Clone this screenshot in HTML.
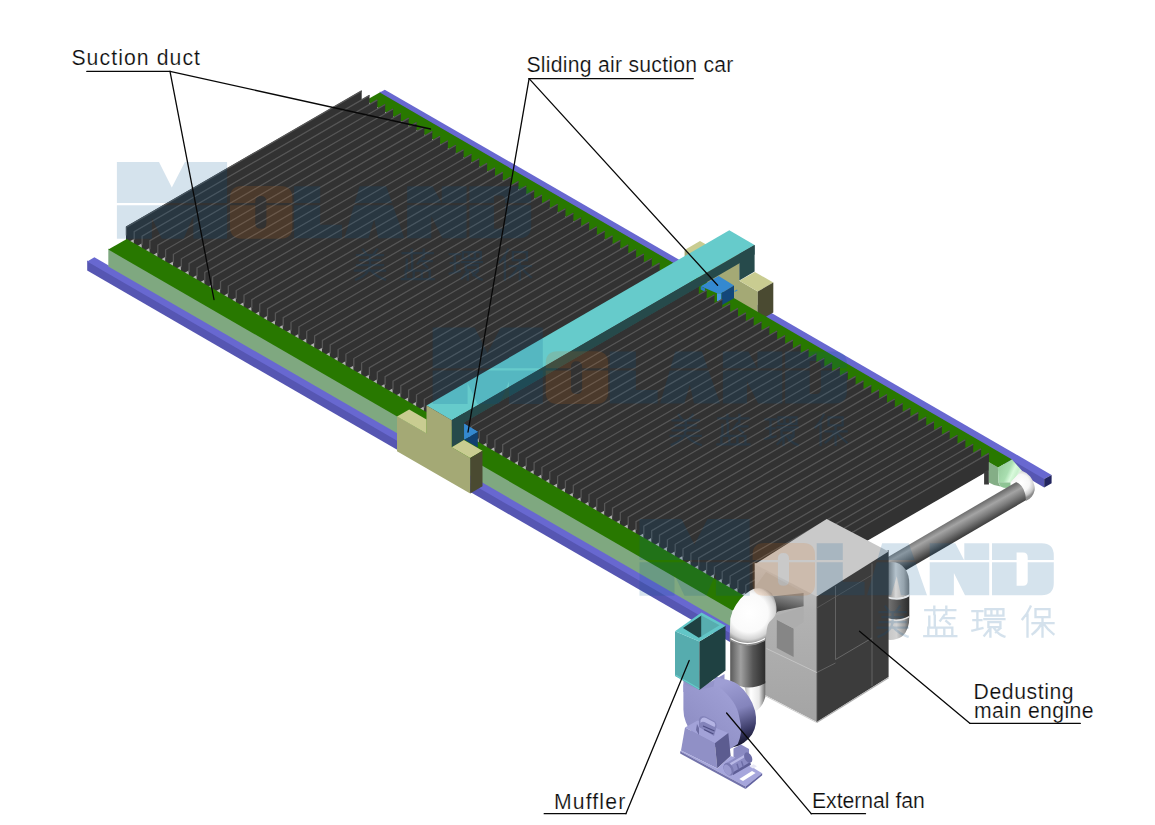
<!DOCTYPE html>
<html><head><meta charset="utf-8"><title>Dust removal system</title>
<style>
html,body{margin:0;padding:0;background:#fff;}
body{width:1155px;height:825px;overflow:hidden;font-family:"Liberation Sans",sans-serif;}
svg{display:block;}
</style></head><body>
<svg width="1155" height="825" viewBox="0 0 1155 825">

<defs>
<linearGradient id="gPipeR" gradientUnits="userSpaceOnUse" x1="956" y1="517" x2="966" y2="535">
 <stop offset="0" stop-color="#6e6e6e"/><stop offset="0.3" stop-color="#a4a4a4"/><stop offset="0.6" stop-color="#7c7c7c"/><stop offset="1" stop-color="#3c3c3c"/>
</linearGradient>
<linearGradient id="gPipeV" x1="0" y1="0" x2="1" y2="0">
 <stop offset="0" stop-color="#5a5a5a"/><stop offset="0.3" stop-color="#a0a0a0"/><stop offset="0.65" stop-color="#555"/><stop offset="1" stop-color="#2c2c2c"/>
</linearGradient>
<linearGradient id="gElbV" x1="0" y1="0" x2="1" y2="0">
 <stop offset="0" stop-color="#b8b8b8"/><stop offset="0.3" stop-color="#ffffff"/><stop offset="0.7" stop-color="#e8e8e8"/><stop offset="1" stop-color="#6a6a6a"/>
</linearGradient>
<linearGradient id="gBackElb" x1="0" y1="0" x2="1" y2="0">
 <stop offset="0" stop-color="#6a6a6a"/><stop offset="0.42" stop-color="#d8d8d8"/><stop offset="0.75" stop-color="#b4b4b4"/><stop offset="1" stop-color="#7a7a7a"/>
</linearGradient>
<linearGradient id="gBackSeg" x1="0" y1="0" x2="1" y2="0">
 <stop offset="0" stop-color="#7a7a7a"/><stop offset="0.4" stop-color="#5c5c5c"/><stop offset="1" stop-color="#2c2c2c"/>
</linearGradient>
<linearGradient id="gBackElb2" x1="0" y1="0" x2="1" y2="0">
 <stop offset="0" stop-color="#c4c4c4"/><stop offset="0.45" stop-color="#d2d2d2"/><stop offset="0.8" stop-color="#9a9a9a"/><stop offset="1" stop-color="#5a5a5a"/>
</linearGradient>
<radialGradient id="gElbL" gradientUnits="userSpaceOnUse" cx="749" cy="613" r="31">
 <stop offset="0" stop-color="#ffffff"/><stop offset="0.62" stop-color="#fafafa"/><stop offset="0.85" stop-color="#d4d4d4"/><stop offset="1" stop-color="#8a8a8a"/>
</radialGradient>
<radialGradient id="gElbR" gradientUnits="userSpaceOnUse" cx="1021" cy="483" r="15.5">
 <stop offset="0" stop-color="#ffffff"/><stop offset="0.55" stop-color="#f6f6f6"/><stop offset="0.85" stop-color="#c8c8c8"/><stop offset="1" stop-color="#8c8c8c"/>
</radialGradient>
<linearGradient id="gDuct" gradientUnits="userSpaceOnUse" x1="790" y1="596" x2="786" y2="614">
 <stop offset="0" stop-color="#8a8a8a"/><stop offset="1" stop-color="#3a3a3a"/>
</linearGradient>
<linearGradient id="gBoxL" x1="0" y1="0" x2="0" y2="1">
 <stop offset="0" stop-color="#c4c4c4"/><stop offset="0.3" stop-color="#b2b2b2"/><stop offset="1" stop-color="#a4a4a4"/>
</linearGradient>
<linearGradient id="gFanRim" gradientUnits="userSpaceOnUse" x1="728" y1="682" x2="750" y2="742">
 <stop offset="0" stop-color="#9e9ed4"/><stop offset="0.45" stop-color="#8484bc"/><stop offset="0.8" stop-color="#3a3a66"/><stop offset="1" stop-color="#15152c"/>
</linearGradient>
<linearGradient id="gFanFace" gradientUnits="userSpaceOnUse" x1="735" y1="690" x2="690" y2="740">
 <stop offset="0" stop-color="#a0a0d6"/><stop offset="1" stop-color="#8c8cc2"/>
</linearGradient>
<linearGradient id="gGreenDuct" gradientUnits="userSpaceOnUse" x1="999" y1="470" x2="1019" y2="479">
 <stop offset="0" stop-color="#9acfa0"/><stop offset="0.4" stop-color="#a9deb0"/><stop offset="0.62" stop-color="#d9fadc"/><stop offset="0.8" stop-color="#c9f0cd"/><stop offset="1" stop-color="#eefaef"/>
</linearGradient>
</defs>

<rect width="1155" height="825" fill="#ffffff"/>
<polygon points="379.8,91.4 1044.2,477.8 1044.2,487.4 379.8,101.0" fill="#5656b2"/>
<polygon points="384.8,89.7 1051.6,474.9 1044.2,479.0 379.8,92.6" fill="#6868d0"/>
<polygon points="1044.2,479.0 1051.6,474.9 1051.6,483.3 1044.2,487.4" fill="#23265f"/>
<polygon points="684.6,250.1 714.1,267.1 714.1,239.1 739.3,253.8 739.3,280.8 757.8,291.5 757.8,327.0 684.6,284.8" fill="#a4a975"/>
<polygon points="684.6,250.1 700.0,240.9 717.5,251.0 714.1,267.1" fill="#c9cc91"/>
<polygon points="739.3,280.8 754.9,272.0 773.3,282.6 757.8,291.5" fill="#c9cc91"/>
<polygon points="757.8,291.5 773.3,282.6 773.3,312.6 757.8,321.5" fill="#4a4a31"/>
<polygon points="379.7,92.4 1012.0,459.5 997.9,467.7 365.6,100.6" fill="#287800"/>
<polygon points="700.7,286.2 718.7,276.0 734.0,285.6 721.3,293.3 717.0,293.3" fill="#3489d0"/>
<polygon points="721.3,293.3 734.0,285.6 734.0,298.2 722.0,305.0" fill="#13477a"/>
<polygon points="717.0,293.3 721.3,293.3 721.3,303.0 717.0,301.0" fill="#4a9be2"/>
<polygon points="700.7,286.2 705.0,288.6 705.0,291.8 700.7,289.4" fill="#2c7cc4"/>
<line x1="734.5" y1="291.6" x2="737.3" y2="290.0" stroke="#3a8ad2" stroke-width="1.2"/>
<polygon points="130.0,231.7 757.2,594.2 757.2,607.2 130.0,244.7" fill="#b2b2b2"/>
<g fill="#323232"><polygon points="126.0,226.6 361.7,90.4 361.7,107.2 126.0,243.4"/><polygon points="133.8,231.1 369.5,94.9 369.5,111.7 133.8,247.9"/><polygon points="141.7,235.7 377.4,99.4 377.4,116.2 141.7,252.5"/><polygon points="149.5,240.2 385.2,104.0 385.2,120.8 149.5,257.0"/><polygon points="157.4,244.7 393.1,108.5 393.1,125.3 157.4,261.5"/><polygon points="165.2,249.3 400.9,113.0 400.9,129.8 165.2,266.1"/><polygon points="173.0,253.8 408.7,117.6 408.7,134.4 173.0,270.6"/><polygon points="180.9,258.3 416.6,122.1 416.6,138.9 180.9,275.1"/><polygon points="188.7,262.9 424.4,126.6 424.4,143.4 188.7,279.7"/><polygon points="196.6,267.4 432.3,131.1 432.3,147.9 196.6,284.2"/><polygon points="204.4,271.9 440.1,135.7 440.1,152.5 204.4,288.7"/><polygon points="212.2,276.4 447.9,140.2 447.9,157.0 212.2,293.2"/><polygon points="220.1,281.0 455.8,144.7 455.8,161.5 220.1,297.8"/><polygon points="227.9,285.5 463.6,149.3 463.6,166.1 227.9,302.3"/><polygon points="235.8,290.0 471.5,153.8 471.5,170.6 235.8,306.8"/><polygon points="243.6,294.6 479.3,158.3 479.3,175.1 243.6,311.4"/><polygon points="251.4,299.1 487.1,162.9 487.1,179.7 251.4,315.9"/><polygon points="259.3,303.6 495.0,167.4 495.0,184.2 259.3,320.4"/><polygon points="267.1,308.2 502.8,171.9 502.8,188.7 267.1,325.0"/><polygon points="275.0,312.7 510.7,176.5 510.7,193.3 275.0,329.5"/><polygon points="282.8,317.2 518.5,181.0 518.5,197.8 282.8,334.0"/><polygon points="290.6,321.8 526.3,185.5 526.3,202.3 290.6,338.6"/><polygon points="298.5,326.3 534.2,190.1 534.2,206.9 298.5,343.1"/><polygon points="306.3,330.8 542.0,194.6 542.0,211.4 306.3,347.6"/><polygon points="314.2,335.4 549.9,199.1 549.9,215.9 314.2,352.2"/><polygon points="322.0,339.9 557.7,203.7 557.7,220.5 322.0,356.7"/><polygon points="329.8,344.4 565.5,208.2 565.5,225.0 329.8,361.2"/><polygon points="337.7,349.0 573.4,212.7 573.4,229.5 337.7,365.8"/><polygon points="345.5,353.5 581.2,217.2 581.2,234.0 345.5,370.3"/><polygon points="353.4,358.0 589.1,221.8 589.1,238.6 353.4,374.8"/><polygon points="361.2,362.5 596.9,226.3 596.9,243.1 361.2,379.3"/><polygon points="369.0,367.1 604.7,230.8 604.7,247.6 369.0,383.9"/><polygon points="376.9,371.6 612.6,235.4 612.6,252.2 376.9,388.4"/><polygon points="384.7,376.1 620.4,239.9 620.4,256.7 384.7,392.9"/><polygon points="392.6,380.7 628.3,244.4 628.3,261.2 392.6,397.5"/><polygon points="400.4,385.2 636.1,249.0 636.1,265.8 400.4,402.0"/><polygon points="408.2,389.7 643.9,253.5 643.9,270.3 408.2,406.5"/><polygon points="416.1,394.3 651.8,258.0 651.8,274.8 416.1,411.1"/><polygon points="423.9,398.8 659.6,262.6 659.6,279.4 423.9,415.6"/><polygon points="431.8,403.3 667.5,267.1 667.5,283.9 431.8,420.1"/><polygon points="439.6,407.9 675.3,271.6 675.3,288.4 439.6,424.7"/><polygon points="447.4,412.4 683.1,276.2 683.1,293.0 447.4,429.2"/><polygon points="455.3,416.9 691.0,280.7 691.0,297.5 455.3,433.7"/><polygon points="463.1,421.5 698.8,285.2 698.8,302.0 463.1,438.3"/><polygon points="471.0,426.0 706.7,289.8 706.7,306.6 471.0,442.8"/><polygon points="478.8,430.5 714.5,294.3 714.5,311.1 478.8,447.3"/><polygon points="486.6,435.0 722.3,298.8 722.3,315.6 486.6,451.8"/><polygon points="494.5,439.6 730.2,303.3 730.2,320.1 494.5,456.4"/><polygon points="502.3,444.1 738.0,307.9 738.0,324.7 502.3,460.9"/><polygon points="510.2,448.6 745.9,312.4 745.9,329.2 510.2,465.4"/><polygon points="518.0,453.2 753.7,316.9 753.7,333.7 518.0,470.0"/><polygon points="525.8,457.7 761.5,321.5 761.5,338.3 525.8,474.5"/><polygon points="533.7,462.2 769.4,326.0 769.4,342.8 533.7,479.0"/><polygon points="541.5,466.8 777.2,330.5 777.2,347.3 541.5,483.6"/><polygon points="549.4,471.3 785.1,335.1 785.1,351.9 549.4,488.1"/><polygon points="557.2,475.8 792.9,339.6 792.9,356.4 557.2,492.6"/><polygon points="565.0,480.4 800.7,344.1 800.7,360.9 565.0,497.2"/><polygon points="572.9,484.9 808.6,348.7 808.6,365.5 572.9,501.7"/><polygon points="580.7,489.4 816.4,353.2 816.4,370.0 580.7,506.2"/><polygon points="588.6,494.0 824.3,357.7 824.3,374.5 588.6,510.8"/><polygon points="596.4,498.5 832.1,362.3 832.1,379.1 596.4,515.3"/><polygon points="604.2,503.0 839.9,366.8 839.9,383.6 604.2,519.8"/><polygon points="612.1,507.6 847.8,371.3 847.8,388.1 612.1,524.4"/><polygon points="619.9,512.1 855.6,375.9 855.6,392.7 619.9,528.9"/><polygon points="627.8,516.6 863.5,380.4 863.5,397.2 627.8,533.4"/><polygon points="635.6,521.1 871.3,384.9 871.3,401.7 635.6,537.9"/><polygon points="643.4,525.7 879.1,389.4 879.1,406.2 643.4,542.5"/><polygon points="651.3,530.2 887.0,394.0 887.0,410.8 651.3,547.0"/><polygon points="659.1,534.7 894.8,398.5 894.8,415.3 659.1,551.5"/><polygon points="667.0,539.3 902.7,403.0 902.7,419.8 667.0,556.1"/><polygon points="674.8,543.8 910.5,407.6 910.5,424.4 674.8,560.6"/><polygon points="682.6,548.3 918.3,412.1 918.3,428.9 682.6,565.1"/><polygon points="690.5,552.9 926.2,416.6 926.2,433.4 690.5,569.7"/><polygon points="698.3,557.4 934.0,421.2 934.0,438.0 698.3,574.2"/><polygon points="706.2,561.9 941.9,425.7 941.9,442.5 706.2,578.7"/><polygon points="714.0,566.5 949.7,430.2 949.7,447.0 714.0,583.3"/><polygon points="721.8,571.0 957.5,434.8 957.5,451.6 721.8,587.8"/><polygon points="729.7,575.5 965.4,439.3 965.4,456.1 729.7,592.3"/><polygon points="737.5,580.1 973.2,443.8 973.2,460.6 737.5,596.9"/><polygon points="745.4,584.6 981.1,448.4 981.1,465.2 745.4,601.4"/><polygon points="753.2,589.1 988.9,452.9 988.9,469.7 753.2,605.9"/></g>
<g fill="none" stroke="#565656" stroke-width="1.3"><path d="M126.4,235.6 L126.4,227.1 L361.7,90.9"/><path d="M134.2,240.1 L134.2,231.6 L369.5,95.4"/><path d="M142.1,244.7 L142.1,236.2 L377.4,99.9"/><path d="M149.9,249.2 L149.9,240.7 L385.2,104.5"/><path d="M157.8,253.7 L157.8,245.2 L393.1,109.0"/><path d="M165.6,258.3 L165.6,249.8 L400.9,113.5"/><path d="M173.4,262.8 L173.4,254.3 L408.7,118.1"/><path d="M181.3,267.3 L181.3,258.8 L416.6,122.6"/><path d="M189.1,271.9 L189.1,263.4 L424.4,127.1"/><path d="M197.0,276.4 L197.0,267.9 L432.3,131.6"/><path d="M204.8,280.9 L204.8,272.4 L440.1,136.2"/><path d="M212.6,285.4 L212.6,276.9 L447.9,140.7"/><path d="M220.5,290.0 L220.5,281.5 L455.8,145.2"/><path d="M228.3,294.5 L228.3,286.0 L463.6,149.8"/><path d="M236.2,299.0 L236.2,290.5 L471.5,154.3"/><path d="M244.0,303.6 L244.0,295.1 L479.3,158.8"/><path d="M251.8,308.1 L251.8,299.6 L487.1,163.4"/><path d="M259.7,312.6 L259.7,304.1 L495.0,167.9"/><path d="M267.5,317.2 L267.5,308.7 L502.8,172.4"/><path d="M275.4,321.7 L275.4,313.2 L510.7,177.0"/><path d="M283.2,326.2 L283.2,317.7 L518.5,181.5"/><path d="M291.0,330.8 L291.0,322.3 L526.3,186.0"/><path d="M298.9,335.3 L298.9,326.8 L534.2,190.6"/><path d="M306.7,339.8 L306.7,331.3 L542.0,195.1"/><path d="M314.6,344.4 L314.6,335.9 L549.9,199.6"/><path d="M322.4,348.9 L322.4,340.4 L557.7,204.2"/><path d="M330.2,353.4 L330.2,344.9 L565.5,208.7"/><path d="M338.1,358.0 L338.1,349.5 L573.4,213.2"/><path d="M345.9,362.5 L345.9,354.0 L581.2,217.7"/><path d="M353.8,367.0 L353.8,358.5 L589.1,222.3"/><path d="M361.6,371.5 L361.6,363.0 L596.9,226.8"/><path d="M369.4,376.1 L369.4,367.6 L604.7,231.3"/><path d="M377.3,380.6 L377.3,372.1 L612.6,235.9"/><path d="M385.1,385.1 L385.1,376.6 L620.4,240.4"/><path d="M393.0,389.7 L393.0,381.2 L628.3,244.9"/><path d="M400.8,394.2 L400.8,385.7 L636.1,249.5"/><path d="M408.6,398.7 L408.6,390.2 L643.9,254.0"/><path d="M416.5,403.3 L416.5,394.8 L651.8,258.5"/><path d="M424.3,407.8 L424.3,399.3 L659.6,263.1"/><path d="M432.2,412.3 L432.2,403.8 L667.5,267.6"/><path d="M440.0,416.9 L440.0,408.4 L675.3,272.1"/><path d="M447.8,421.4 L447.8,412.9 L683.1,276.7"/><path d="M455.7,425.9 L455.7,417.4 L691.0,281.2"/><path d="M463.5,430.5 L463.5,422.0 L698.8,285.7"/><path d="M471.4,435.0 L471.4,426.5 L706.7,290.3"/><path d="M479.2,439.5 L479.2,431.0 L714.5,294.8"/><path d="M487.0,444.0 L487.0,435.5 L722.3,299.3"/><path d="M494.9,448.6 L494.9,440.1 L730.2,303.8"/><path d="M502.7,453.1 L502.7,444.6 L738.0,308.4"/><path d="M510.6,457.6 L510.6,449.1 L745.9,312.9"/><path d="M518.4,462.2 L518.4,453.7 L753.7,317.4"/><path d="M526.2,466.7 L526.2,458.2 L761.5,322.0"/><path d="M534.1,471.2 L534.1,462.7 L769.4,326.5"/><path d="M541.9,475.8 L541.9,467.3 L777.2,331.0"/><path d="M549.8,480.3 L549.8,471.8 L785.1,335.6"/><path d="M557.6,484.8 L557.6,476.3 L792.9,340.1"/><path d="M565.4,489.4 L565.4,480.9 L800.7,344.6"/><path d="M573.3,493.9 L573.3,485.4 L808.6,349.2"/><path d="M581.1,498.4 L581.1,489.9 L816.4,353.7"/><path d="M589.0,503.0 L589.0,494.5 L824.3,358.2"/><path d="M596.8,507.5 L596.8,499.0 L832.1,362.8"/><path d="M604.6,512.0 L604.6,503.5 L839.9,367.3"/><path d="M612.5,516.6 L612.5,508.1 L847.8,371.8"/><path d="M620.3,521.1 L620.3,512.6 L855.6,376.4"/><path d="M628.2,525.6 L628.2,517.1 L863.5,380.9"/><path d="M636.0,530.1 L636.0,521.6 L871.3,385.4"/><path d="M643.8,534.7 L643.8,526.2 L879.1,389.9"/><path d="M651.7,539.2 L651.7,530.7 L887.0,394.5"/><path d="M659.5,543.7 L659.5,535.2 L894.8,399.0"/><path d="M667.4,548.3 L667.4,539.8 L902.7,403.5"/><path d="M675.2,552.8 L675.2,544.3 L910.5,408.1"/><path d="M683.0,557.3 L683.0,548.8 L918.3,412.6"/><path d="M690.9,561.9 L690.9,553.4 L926.2,417.1"/><path d="M698.7,566.4 L698.7,557.9 L934.0,421.7"/><path d="M706.6,570.9 L706.6,562.4 L941.9,426.2"/><path d="M714.4,575.5 L714.4,567.0 L949.7,430.7"/><path d="M722.2,580.0 L722.2,571.5 L957.5,435.3"/><path d="M730.1,584.5 L730.1,576.0 L965.4,439.8"/><path d="M737.9,589.1 L737.9,580.6 L973.2,444.3"/><path d="M745.8,593.6 L745.8,585.1 L981.1,448.9"/><path d="M753.6,598.1 L753.6,589.6 L988.9,453.4"/></g>
<polygon points="753.2,589.1 988.9,452.9 988.9,470.5 753.2,606.7" fill="#323232"/>
<line x1="753.6" y1="589.6" x2="988.9" y2="453.4" stroke="#565656" stroke-width="1.15"/>
<polygon points="984.1,471.9 988.9,469.2 988.9,484.4 984.1,484.4" fill="#3a3a3a"/>
<polygon points="87.2,260.4 730.0,631.9 730.0,642.1 87.2,270.6" fill="#5656b2"/>
<polygon points="94.4,257.3 737.2,628.8 730.0,633.1 87.2,261.6" fill="#6868d0"/>
<polygon points="108.3,248.4 732.5,609.2 732.5,627.2 108.3,266.4" fill="#7fa880"/>
<polygon points="126.8,238.9 751.1,599.7 732.5,610.4 108.3,249.6" fill="#287800"/>
<polygon points="988.8,462.0 997.9,467.3 998.6,483.0 1000.5,486.5 994.0,485.0 988.8,482.6" fill="#84ae86"/>
<polygon points="997.9,467.5 1012.0,459.4 1022.0,470.8 1010.5,482.6 998.6,482.5" fill="url(#gGreenDuct)"/>
<path d="M998.6,482.3 L1010.5,482.4 Q1011,486 1009.5,488 Q1004,488.5 1000.5,486.5 Z" fill="#8fc595"/>
<polygon points="1019.3,480.3 882.8,559.9 893.2,577.7 1029.7,498.1" fill="url(#gPipeR)"/>
<path d="M886,563 Q898,559.5 905.6,569.5 Q909.3,575 909.3,584 L909.3,594.5 Q899,600.5 886,596.5 Z" fill="url(#gBackElb)"/>
<path d="M886,596.5 Q899,601.5 909.3,595 L909.3,616.5 Q899,622.5 886,618.5 Z" fill="url(#gBackSeg)"/>
<path d="M886,618.5 Q899,622.5 909.3,616.5 Q909.6,630 902,636.5 Q895,641 886,639.5 Z" fill="url(#gBackElb2)"/>
<path d="M886,596.8 Q899,601.8 909.3,595.3" fill="none" stroke="#e4e7ea" stroke-width="1.6"/>
<path d="M886,618.4 Q899,622.6 909.3,616.6" fill="none" stroke="#e2e2e2" stroke-width="1.5"/>
<path d="M1021.5,470.6 Q1026.5,472.5 1030.2,476.5 Q1033,480 1034.1,484.4 Q1035,488 1034.5,490.7 Q1033.8,494 1031.7,496.8 Q1029.5,499.5 1025.8,501 Q1026,495 1024.6,492.3 Q1023.5,488.5 1021.5,486 Q1019,483 1016,482 Q1013,481.6 1010.5,482.6 Z" fill="url(#gElbR)"/>
<polygon points="426.5,405.5 729.3,230.3 754.6,244.9 451.7,420.2" fill="#66cbcb"/>
<polygon points="451.7,420.2 754.6,244.9 754.6,254.5 451.7,429.8" fill="#264a4b"/>
<polygon points="739.3,253.7 754.6,244.9 754.6,271.6 739.3,280.6" fill="#264a4b"/>
<polygon points="451.7,420.2 464.2,412.9 464.2,439.9 451.7,447.2" fill="#264a4b"/>
<polygon points="464.2,423.8 477.8,431.8 468.0,437.6 464.2,439.6" fill="#3489d0"/>
<polygon points="464.2,439.6 468.0,437.6 477.8,431.8 477.8,447.6 465.5,440.6" fill="#11406f"/>
<polygon points="464.2,423.8 477.8,431.8 466.0,438.6 464.2,439.6" fill="#3489d0"/>
<polygon points="397.0,416.5 426.5,433.5 426.5,405.5 451.7,420.2 451.7,447.2 470.2,457.9 470.2,493.4 397.0,451.2" fill="#a4a975"/>
<polygon points="397.0,416.5 409.2,409.4 426.5,419.4 426.5,433.5" fill="#c9cc91"/>
<polygon points="451.7,447.2 463.9,440.1 482.5,450.8 470.2,457.9" fill="#c9cc91"/>
<polygon points="470.2,457.9 482.5,450.8 482.5,486.3 470.2,493.4" fill="#4a4a31"/>
<polygon points="754.7,562.8 816.8,595.0 816.8,722.0 754.7,689.8" fill="url(#gBoxL)"/>
<polygon points="816.8,595.0 888.6,550.1 888.6,677.1 816.8,722.0" fill="#3c3c3c"/>
<polygon points="826.7,519.0 888.6,551.6 816.8,596.5 754.7,564.3" fill="#c9c9c9"/>
<line x1="816.8" y1="722.6" x2="888.6" y2="677.7" stroke="#b0b0b0" stroke-width="1.2"/>
<line x1="816.8" y1="722.6" x2="754.7" y2="690.4" stroke="#d0d0d0" stroke-width="1.0"/>
<line x1="835.5" y1="586.0" x2="835.5" y2="659.5" stroke="#6c6c6c" stroke-width="0.8"/>
<line x1="872.0" y1="563.5" x2="872.0" y2="686.0" stroke="#6c6c6c" stroke-width="0.8"/>
<line x1="835.5" y1="659.5" x2="872.0" y2="638.0" stroke="#6c6c6c" stroke-width="0.9"/>
<line x1="816.8" y1="672.5" x2="835.5" y2="663.0" stroke="#6c6c6c" stroke-width="0.8"/>
<line x1="816.8" y1="608.0" x2="872.0" y2="575.0" stroke="#5c5c5c" stroke-width="0.8"/>
<line x1="816.8" y1="596.5" x2="816.8" y2="722.0" stroke="#6a6a6a" stroke-width="0.8"/>
<line x1="766.5" y1="648.5" x2="816.8" y2="672.5" stroke="#c4c4c4" stroke-width="1.0"/>
<polygon points="776.8,619.8 793.6,628.6 793.6,657.0 776.8,648.0" fill="#868686"/>
<polygon points="775.8,615.8 803.6,606.7 803.6,622.0 793.6,628.6 776.8,619.8" fill="#adadad"/>
<polygon points="754.7,587.3 766.0,572.1 803.6,592.7 771.5,596.4" fill="#b7b5b3"/>
<polygon points="771.5,596.6 803.6,593.0 803.6,606.2 777.6,611.5 775.0,614.5" fill="url(#gDuct)"/>
<path d="M744.5,686 L765.3,681 L765.3,697 Q763,706 756,711 L748,702 Q746,694 744.5,686 Z" fill="url(#gElbV)"/>
<path d="M730.2,638 Q747,647 765.3,638 L765.3,683.2 Q747,693 730.2,681 Z" fill="url(#gPipeV)"/>
<path d="M729.6,640 L730.3,618.8 Q732.5,610 736.4,604.2 Q740,598.5 744.8,594.5 Q749,591 753.3,589.1 Q758,587.6 763,588.5 Q768,590 771.5,593.3 Q774.5,597.5 775.8,603 Q776.8,608 776.4,612.7 Q775,616.5 772.7,618.8 Q769.5,621.5 767.9,624.8 Q766.2,630 766,640 Q747,650.5 729.6,640 Z" fill="url(#gElbL)"/>
<path d="M730.6,638.6 Q747,648.6 765,638.6" fill="none" stroke="#ffffff" stroke-width="1.2"/>
<path d="M730.6,640.4 Q747,650.6 765,640.4" fill="none" stroke="#8c8c8c" stroke-width="0.9"/>
<polygon points="683.4,674.0 699.5,688.0 724.5,674.0 724.5,690.0 683.4,692.0" fill="#9494ca"/>
<path d="M715,676 L722,678.7 Q731,680 737.8,684.2 Q744,689 748.8,696.8 Q753,703 755.1,711 Q756.5,717 755.9,723.6 Q755,730 752,734.6 Q749,739 744.1,742.5 L739.3,745.6 L730,748 L712,700 Z" fill="url(#gFanRim)"/>
<path d="M683.4,684.2 L699.9,689.7 L717.3,685.8 Q726,692 733,701.5 Q738,709 739.3,717.3 Q741.5,725 740.9,733 Q740,739 737.8,744 L730,749 L700,745 L690.5,729.9 Q687,726 685.8,722 Q683.4,716 683.4,709.4 Z" fill="url(#gFanFace)"/>
<polygon points="685.0,727.5 697.6,720.4 728.3,733.0 714.9,743.3" fill="#a2a2d8"/>
<polygon points="685.0,727.5 714.9,743.3 717.3,768.5 681.0,750.4" fill="#9090c6"/>
<polygon points="714.9,743.3 728.3,733.0 730.7,755.9 717.3,768.5" fill="#5c5c90"/>
<path d="M699,727 L699,719 Q701,714.5 705.5,716.5 L715,721.5 Q717.5,724 716,729 L714,736 Z" fill="#8383ba"/>
<path d="M700.5,720 Q702.5,716.5 706,718 L714.5,722.5 Q716,724.5 714.5,727 L704.5,722 Q702,721 700.5,723 Z" fill="#b4b4e4"/>
<path d="M704,729.5 L713.5,734 M703,726 L714.5,731" fill="none" stroke="#4e4e84" stroke-width="1.2"/>
<path d="M697,724 L699,728 L699,735 L696,730 Z" fill="#6c6ca2"/>
<polygon points="680.2,751.2 745.6,786.6 762.2,773.2 756.0,769.5 742.0,760.0 730.7,755.9 717.3,768.5 681.0,750.4" fill="#a6a6dc"/>
<polygon points="680.2,751.2 745.6,786.6 745.6,789.0 680.2,753.6" fill="#7272aa"/>
<polygon points="745.6,786.6 762.2,773.2 762.2,775.2 745.6,789.0" fill="#6262a0"/>
<polygon points="739.3,778.9 752.0,770.9 755.6,773.0 743.0,781.0" fill="#ffffff"/>
<polygon points="749.5,766.5 753.5,764.2 757.0,766.2 753.0,768.6" fill="#e8e8f6"/>
<polygon points="733.5,748.5 741.0,744.5 749.0,749.0 749.0,757.0 741.5,761.0 733.5,757.0" fill="#8a8ac2"/>
<line x1="728.6" y1="769.0" x2="747.5" y2="758.0" stroke="#8c8cc4" stroke-width="12.5" stroke-linecap="butt"/>
<line x1="730.5" y1="764.2" x2="748.0" y2="754.0" stroke="#b9b9e6" stroke-width="2.2"/>
<line x1="732.5" y1="774.0" x2="750.5" y2="763.4" stroke="#5e5e96" stroke-width="2.6"/>
<ellipse cx="728.6" cy="769.2" rx="4.6" ry="6.8" fill="#7a7ab2" transform="rotate(-28 728.6 769.2)"/>
<ellipse cx="727.6" cy="769.8" rx="3.4" ry="5.6" fill="#9a9ad0" transform="rotate(-28 727.6 769.8)"/>
<ellipse cx="748.2" cy="757.6" rx="3.6" ry="5.6" fill="#6e6ea8" transform="rotate(-28 748.2 757.6)"/>
<line x1="737.0" y1="763.8" x2="738.8" y2="769.5" stroke="#6c6ca6" stroke-width="1.4"/>
<line x1="741.5" y1="761.2" x2="743.3" y2="766.9" stroke="#6c6ca6" stroke-width="1.4"/>
<polygon points="675.0,631.2 699.4,641.5 699.4,690.0 675.0,675.9" fill="#56acae"/>
<polygon points="699.4,641.5 725.5,625.7 725.5,670.4 699.4,690.0" fill="#1f4142"/>
<polygon points="675.0,631.2 701.5,612.6 725.5,625.7 699.4,641.5" fill="#62c6c7"/>
<polygon points="683.0,627.9 701.5,615.4 701.5,636.3 698.8,637.7" fill="#1f4142"/>
<polygon points="701.5,615.4 719.5,625.2 701.5,636.3" fill="#57adaf"/>
<line x1="675.3" y1="675.0" x2="699.4" y2="689.0" stroke="#66c9ca" stroke-width="1.3"/>
<defs><clipPath id="wmclip"><rect x="100" y="150" width="450" height="52.9"/><rect x="100" y="205.3" width="450" height="100"/></clipPath><g id="wm"><g clip-path="url(#wmclip)"><g fill="#025292" fill-opacity="0.163" fill-rule="evenodd"><path d="M116.9,162.1 L159,162.1 L171.8,187.6 L184.9,162.1 L227.1,162.1 L227.1,238.7 L193.3,238.7 L193.3,216.3 L183.7,238.7 L161.8,238.7 L151.9,218 L151.9,238.7 L116.9,238.7 Z"/><path d="M294.1,186.2 H320.2 V224.7 H342 V238.3 H294.1 Z"/><path d="M344.4,238.3 L359.5,186.2 L386.2,186.2 L404.4,238.3 L378.3,238.3 L374.1,219.2 L368.6,238.3 Z"/><path d="M407.1,186.2 H432.7 L441.7,203.5 V186.2 H466.6 V238.3 H442.4 L431.3,216 V238.3 H407.1 Z"/><path d="M469.4,186.2 H519 Q531.2,186.2 531.2,198.5 V226 Q531.2,238.3 519,238.3 H469.4 Z M494,195.6 H500.5 Q505.1,195.6 505.1,200.5 V224 Q505.1,228.8 500.5,228.8 H494 Z"/></g><path d="M242,186 H280.4 Q292.4,186 292.4,198 V226.7 Q292.4,238.7 280.4,238.7 H242 Q230,238.7 230,226.7 V198 Q230,186 242,186 Z M260.85,195.9 Q255.3,195.9 255.3,201.4 V223.3 Q255.3,228.8 260.85,228.8 Q266.4,228.8 266.4,223.3 V201.4 Q266.4,195.9 260.85,195.9 Z" fill="#e06b10" fill-opacity="0.15" fill-rule="evenodd"/></g><g opacity="0.163"><g fill="none" stroke="#025292" stroke-width="2.35" stroke-linecap="square" stroke-linejoin="miter"><path transform="translate(354.0,249.6)" d="M9,0 L12,4 M23,0 L20,4 M3,5.5 H29 M6,10.5 H26 M3,15.5 H29 M16,5.5 V16 M1,21 H31 M16,16 Q15,25 2,30 M17,21 Q22,27 31,30"/><path transform="translate(401.7,249.6)" d="M1,3.5 H31 M10,0 V7.5 M22,0 V7.5 M5,10 V19 M10.5,9 V19.5 M20,8.5 L16,14 M18.5,11.5 H30 M22,14.5 L25.5,17.5 M4,21 V29 M28,21 V29 M4,21 H28 M12,21 V29 M20,21 V29 M0,29.5 H32"/><path transform="translate(449.8,249.6)" d="M0,4.5 H10 M1,13.5 H9 M0,24 L10,21.5 M5,4.5 V23 M13,2.5 H31 V9 H13 Z M19,2.5 V9 M25,2.5 V9 M12,12.5 H32 M16,15.5 H28 V20.5 H16 Z M18,21.5 L12,29 M18,23 V30 M22,22 Q26,28 32,30 M28,21.5 L23.5,25.5"/><path transform="translate(498.9,249.6)" d="M9,0 Q6,7 1,12.5 M6,8 V30 M14,2.5 H28 V10.5 H14 Z M11,16.5 H32 M21,10.5 V30 M20,17 Q17,23 11,27.5 M22,17 Q26,23 32,27.5"/></g></g></g></defs><use href="#wm"/><use href="#wm" transform="translate(315.7,165.3)"/><use href="#wm" transform="translate(522.6,357.0)"/>
<g stroke="#080808" stroke-width="1.3" stroke-linecap="round"><line x1="86.8" y1="71.4" x2="170.0" y2="71.4"/><line x1="170.0" y1="71.4" x2="214.0" y2="299.5"/><line x1="170.0" y1="71.4" x2="430.5" y2="129.0"/><line x1="529.1" y1="78.6" x2="693.3" y2="78.6"/><line x1="529.1" y1="78.6" x2="468.0" y2="432.0"/><line x1="529.1" y1="78.6" x2="717.6" y2="285.3"/><line x1="970.1" y1="723.4" x2="1080.3" y2="723.4"/><line x1="970.1" y1="723.4" x2="859.5" y2="631.2"/><line x1="544.2" y1="813.7" x2="625.9" y2="813.7"/><line x1="625.9" y1="813.7" x2="689.2" y2="660.5"/><line x1="811.2" y1="813.7" x2="865.5" y2="813.7"/><line x1="811.2" y1="813.7" x2="726.6" y2="713.0"/></g>
<g font-family="'Liberation Sans', sans-serif" fill="#0c0c0c" stroke="#ffffff" stroke-width="0.2"><text x="71.4" y="64.8" textLength="128.6" lengthAdjust="spacing" font-size="21.2">Suction duct</text><text x="526.4" y="72.2" textLength="207.0" lengthAdjust="spacing" font-size="21.2">Sliding air suction car</text><text x="973.6" y="698.9" textLength="100.0" lengthAdjust="spacing" font-size="21.2">Dedusting</text><text x="974.0" y="718.2" textLength="119.6" lengthAdjust="spacing" font-size="21.2">main engine</text><text x="554.0" y="808.5" textLength="71.2" lengthAdjust="spacing" font-size="21.2">Muffler</text><text x="812.0" y="807.6" textLength="112.8" lengthAdjust="spacing" font-size="21.2">External fan</text></g>
</svg>
</body></html>
